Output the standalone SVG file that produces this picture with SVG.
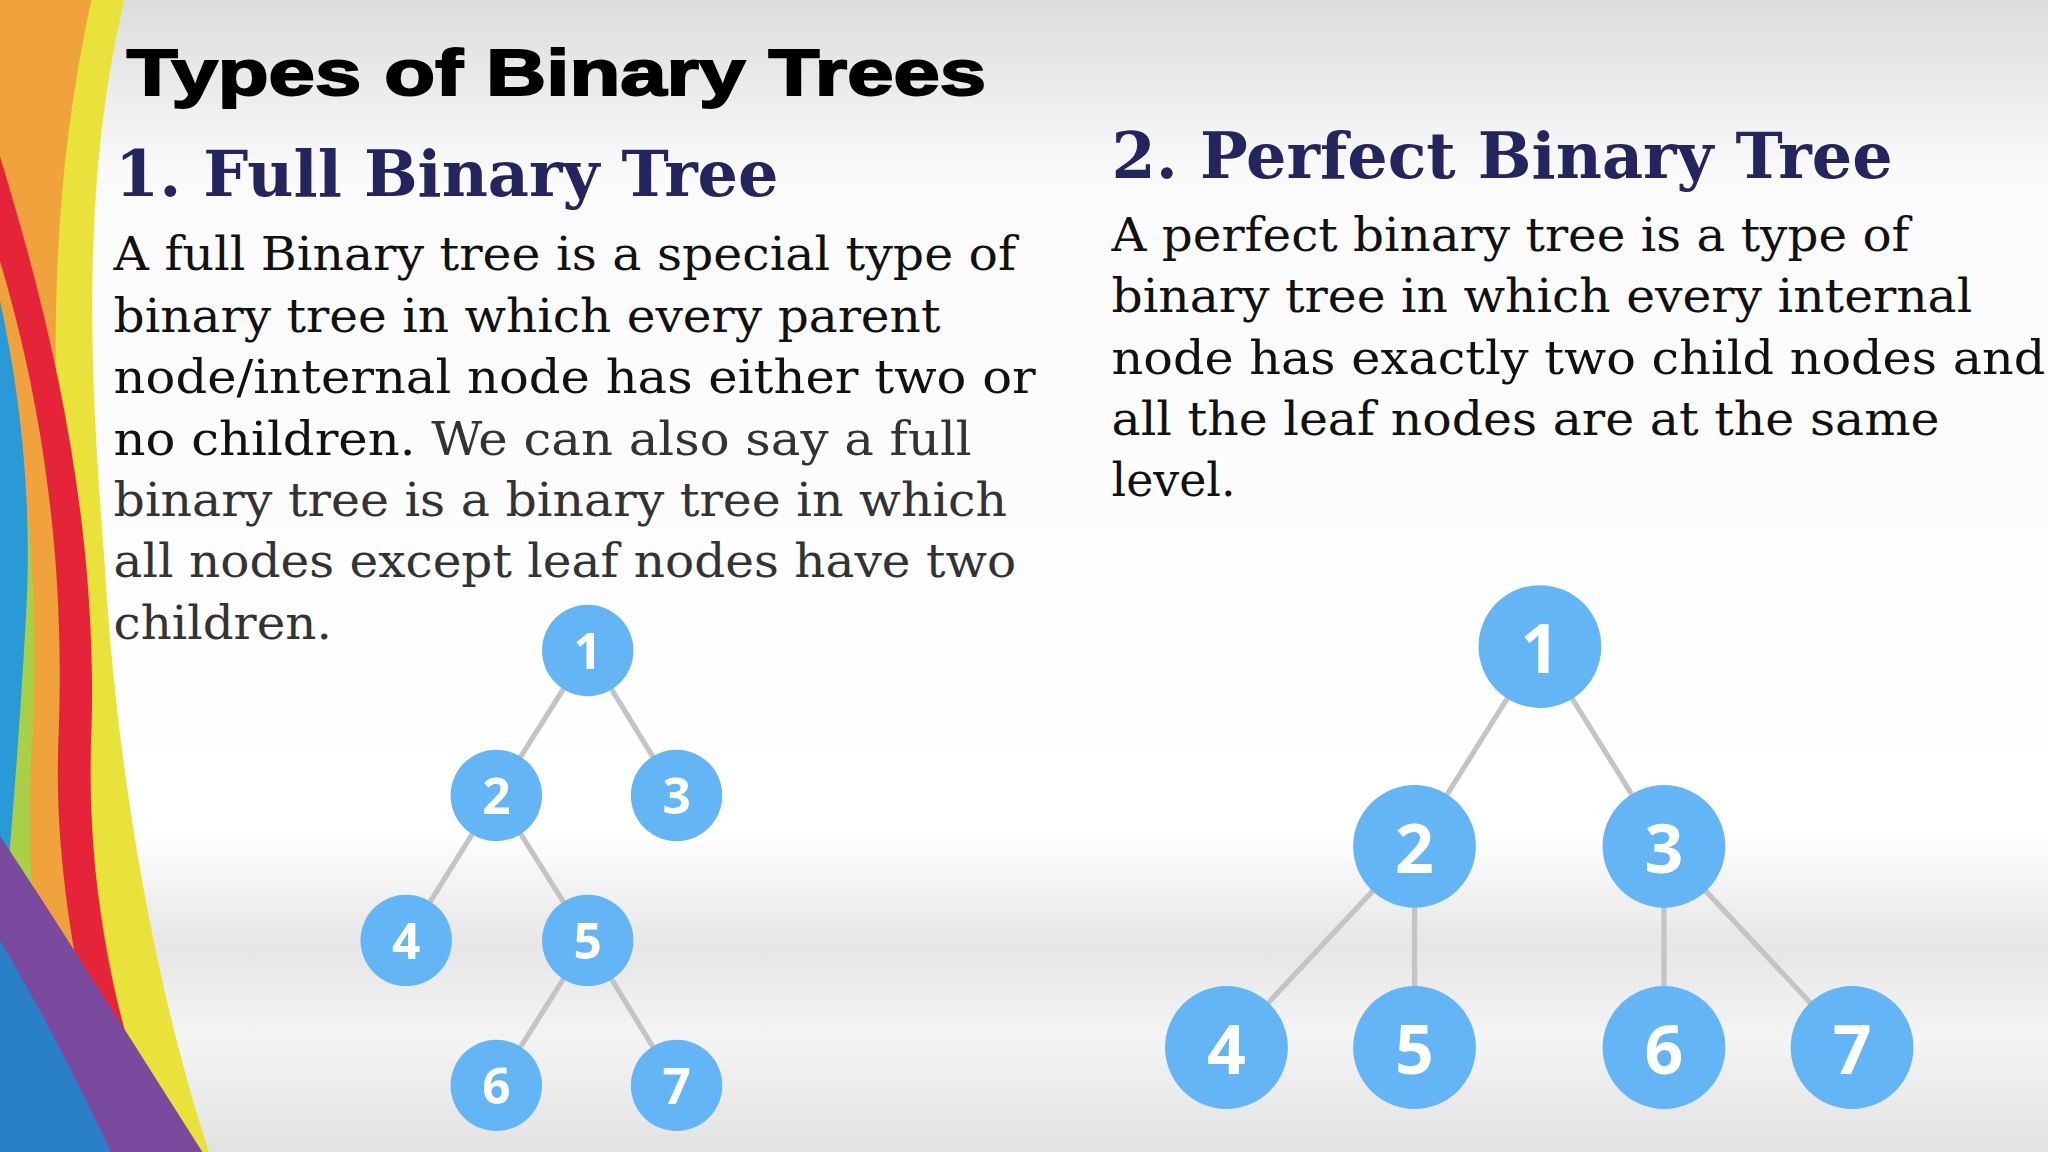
<svg xmlns="http://www.w3.org/2000/svg" width="2048" height="1152" viewBox="0 0 2048 1152">
<defs>
<linearGradient id="bg" x1="0" y1="0" x2="0" y2="1">
<stop offset="0" stop-color="#dcdcdc"/><stop offset="0.15" stop-color="#fafafa"/><stop offset="0.72" stop-color="#ffffff"/><stop offset="0.82" stop-color="#e6e6e6"/><stop offset="0.9" stop-color="#f4f4f4"/><stop offset="1" stop-color="#e2e2e2"/>
</linearGradient>
<style>
.h{font-family:"DejaVu Serif","Liberation Serif",serif;font-weight:bold;fill:#24245e;font-size:48px}
.b{font-family:"DejaVu Serif","Liberation Serif",serif;font-size:36px;fill:#111}
.g{fill:#333}
.e{stroke:#c4c4c4;stroke-width:4;fill:none}
.n{fill:#64b5f6}
.t{font-family:"Open Sans","DejaVu Sans",sans-serif;font-weight:bold;fill:#fff;text-anchor:middle;dominant-baseline:central}
</style>
</defs>
<rect width="2048" height="1152" fill="url(#bg)"/>
<g transform="scale(1.30612)">
<g id="deco">
<path d="M0 0 H95 C60 150 70 300 80 430 C90 600 120 760 160 882 H0 Z" fill="#e9e23a"/>
<path d="M0 0 H70 C35 160 40 300 50 440 C60 600 80 760 120 882 H0 Z" fill="#f0a23c"/>
<path d="M0 120 C40 250 75 400 70 560 C65 680 90 800 130 882 H0 Z" fill="#e5243a"/>
<path d="M0 200 C30 300 50 420 45 560 C40 660 60 760 90 882 H0 Z" fill="#f0a23c"/>
<path d="M0 260 C20 350 30 450 25 560 C20 640 25 700 30 740 L0 760 Z" fill="#a8cf45"/>
<path d="M0 230 C15 300 25 380 20 470 C15 560 10 620 5 680 L0 690 Z" fill="#2a9ad6"/>
<path d="M0 640 C40 700 90 780 155 882 H0 Z" fill="#7a4a9e"/>
<path d="M0 720 C30 770 60 830 85 882 H0 Z" fill="#2a80c8"/>
</g>
<text x="97" y="73" font-family="'Liberation Sans',Arial,sans-serif" font-weight="900" font-size="50" fill="#000" textLength="658" lengthAdjust="spacingAndGlyphs" stroke="#000" stroke-width="1.5">Types of Binary Trees</text>
<text class="h" x="88" y="150" textLength="508" lengthAdjust="spacingAndGlyphs">1. Full Binary Tree</text>
<text class="h" x="851" y="136" textLength="598" lengthAdjust="spacingAndGlyphs">2. Perfect Binary Tree</text>
<g class="b">
<text x="87" y="207" textLength="691" lengthAdjust="spacingAndGlyphs">A full Binary tree is a special type of</text>
<text x="87" y="254" textLength="633" lengthAdjust="spacingAndGlyphs">binary tree in which every parent</text>
<text x="87" y="301" textLength="706" lengthAdjust="spacingAndGlyphs">node/internal node has either two or</text>
<text x="87" y="348" textLength="657" lengthAdjust="spacingAndGlyphs">no children. <tspan class="g">We can also say a full</tspan></text>
<text class="g" x="87" y="395" textLength="684" lengthAdjust="spacingAndGlyphs">binary tree is a binary tree in which</text>
<text class="g" x="87" y="442" textLength="691" lengthAdjust="spacingAndGlyphs">all nodes except leaf nodes have two</text>
<text class="g" x="87" y="489" textLength="167" lengthAdjust="spacingAndGlyphs">children.</text>
<text x="851" y="192" textLength="611" lengthAdjust="spacingAndGlyphs">A perfect binary tree is a type of</text>
<text x="851" y="239" textLength="659" lengthAdjust="spacingAndGlyphs">binary tree in which every internal</text>
<text x="851" y="286" textLength="715" lengthAdjust="spacingAndGlyphs">node has exactly two child nodes and</text>
<text x="851" y="333" textLength="634" lengthAdjust="spacingAndGlyphs">all the leaf nodes are at the same</text>
<text x="851" y="380" textLength="95" lengthAdjust="spacingAndGlyphs">level.</text>
</g>
<g id="connectors">
<path class="e" d="M450 498 L380 609 M450 498 L518 609 M380 609 L311 720 M380 609 L450 720 M450 720 L380 831 M450 720 L518 831"/>
<path class="e" d="M1179 495 L1083 648 M1179 495 L1274 648 M1083 648 L939 802 M1083 648 L1083 802 M1274 648 L1274 802 M1274 648 L1418 802"/>
</g>
<g id="a1"><circle class="n" cx="450" cy="498" r="35"/><text class="t" x="450" y="498" font-size="38">1</text></g>
<g id="a2"><circle class="n" cx="380" cy="609" r="35"/><text class="t" x="380" y="609" font-size="38">2</text></g>
<g id="a3"><circle class="n" cx="518" cy="609" r="35"/><text class="t" x="518" y="609" font-size="38">3</text></g>
<g id="a4"><circle class="n" cx="311" cy="720" r="35"/><text class="t" x="311" y="720" font-size="38">4</text></g>
<g id="a5"><circle class="n" cx="450" cy="720" r="35"/><text class="t" x="450" y="720" font-size="38">5</text></g>
<g id="a6"><circle class="n" cx="380" cy="831" r="35"/><text class="t" x="380" y="831" font-size="38">6</text></g>
<g id="a7"><circle class="n" cx="518" cy="831" r="35"/><text class="t" x="518" y="831" font-size="38">7</text></g>
<g id="b1"><circle class="n" cx="1179" cy="495" r="47"/><text class="t" x="1179" y="495" font-size="52">1</text></g>
<g id="b2"><circle class="n" cx="1083" cy="648" r="47"/><text class="t" x="1083" y="648" font-size="52">2</text></g>
<g id="b3"><circle class="n" cx="1274" cy="648" r="47"/><text class="t" x="1274" y="648" font-size="52">3</text></g>
<g id="b4"><circle class="n" cx="939" cy="802" r="47"/><text class="t" x="939" y="802" font-size="52">4</text></g>
<g id="b5"><circle class="n" cx="1083" cy="802" r="47"/><text class="t" x="1083" y="802" font-size="52">5</text></g>
<g id="b6"><circle class="n" cx="1274" cy="802" r="47"/><text class="t" x="1274" y="802" font-size="52">6</text></g>
<g id="b7"><circle class="n" cx="1418" cy="802" r="47"/><text class="t" x="1418" y="802" font-size="52">7</text></g>
</g>
</svg>
